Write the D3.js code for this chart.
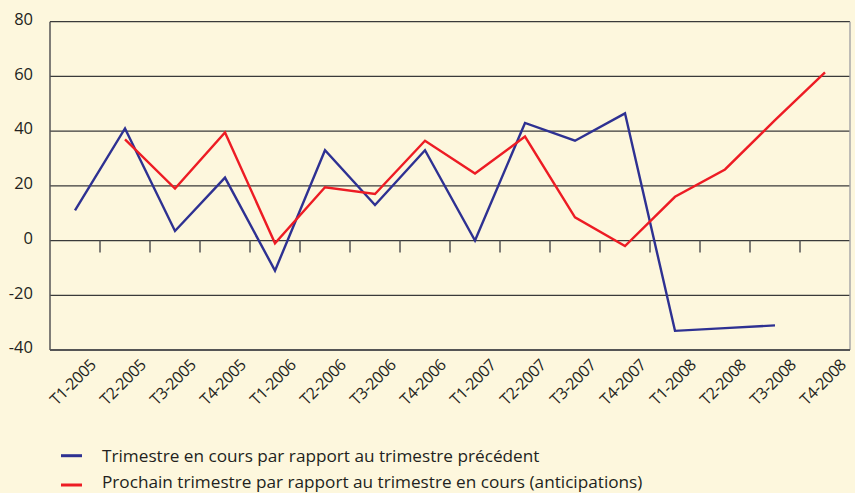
<!DOCTYPE html>
<html>
<head>
<meta charset="utf-8">
<script src="https://cdn.jsdelivr.net/npm/d3@7"></script>
<style>
  html, body { margin: 0; padding: 0; background: #fdf7dd; }
  svg { display: block; }
  text { font-family: "Open Sans", "Noto Sans", sans-serif; fill: #231f20; }
</style>
</head>
<body>
<svg id="chart" width="855" height="493"></svg>
<script>
// categories (quarters)
const quarters = [
  "T1-2005", "T2-2005", "T3-2005", "T4-2005",
  "T1-2006", "T2-2006", "T3-2006", "T4-2006",
  "T1-2007", "T2-2007", "T3-2007", "T4-2007",
  "T1-2008", "T2-2008", "T3-2008", "T4-2008"
];
// current quarter vs previous quarter
const currentVsPrevious = [11, 41, 3.5, 23, -11, 33, 13, 33, 0, 43, 36.5, 46.5, -33, -32, -31, null];
// next quarter vs current quarter (expectations)
const nextVsCurrent = [null, 37, 19, 39.5, -1, 19.5, 17, 36.5, 24.5, 38, 8.5, -2, 16, 26, 44, 61.5];
const yTicks = [-40, -20, 0, 20, 40, 60, 80];
const legendLabels = [
  "Trimestre en cours par rapport au trimestre précédent",
  "Prochain trimestre par rapport au trimestre en cours (anticipations)"
];
const seriesColors = ["#2e3192", "#ed1c24"];

const svg = d3.select("#chart");
const plotLeft = 50, plotRight = 850, plotTop = 21.7, plotBottom = 350;

const x = d3.scaleBand().domain(quarters).range([plotLeft, plotRight]).padding(0);
const y = d3.scaleLinear().domain([-40, 80]).range([plotBottom, plotTop]);
const cx = d => x(d) + x.bandwidth() / 2;

// horizontal gridlines
svg.append("g")
  .selectAll("line")
  .data(yTicks)
  .join("line")
  .attr("x1", plotLeft).attr("x2", plotRight)
  .attr("y1", d => y(d)).attr("y2", d => y(d))
  .attr("stroke", "#3a3a3a")
  .attr("stroke-width", 1.3);

// frame
svg.append("line").attr("x1", plotLeft).attr("x2", plotLeft).attr("y1", plotTop).attr("y2", plotBottom)
  .attr("stroke", "#555").attr("stroke-width", 1.5);
svg.append("line").attr("x1", plotRight).attr("x2", plotRight).attr("y1", plotTop).attr("y2", plotBottom)
  .attr("stroke", "#a8a8a8").attr("stroke-width", 1.5);
svg.append("line").attr("x1", plotLeft).attr("x2", plotRight).attr("y1", plotBottom).attr("y2", plotBottom)
  .attr("stroke", "#555").attr("stroke-width", 2);

// x axis ticks on the zero line, between categories
svg.append("g")
  .selectAll("line")
  .data(quarters.slice(1))
  .join("line")
  .attr("x1", d => x(d)).attr("x2", d => x(d))
  .attr("y1", y(0)).attr("y2", y(0) + 12)
  .attr("stroke", "#555")
  .attr("stroke-width", 1.5);

// y labels
svg.append("g")
  .selectAll("text")
  .data(yTicks)
  .join("text")
  .attr("x", 33)
  .attr("y", d => y(d) - 2.5)
  .attr("dy", "0.35em")
  .attr("text-anchor", "end")
  .attr("font-size", 16.5)
  .text(d => d);

// x labels
svg.append("g")
  .selectAll("text")
  .data(quarters)
  .join("text")
  .attr("transform", d => `translate(${cx(d) + 22},${plotBottom + 16}) rotate(-45)`)
  .attr("text-anchor", "end")
  .attr("font-size", 16)
  .attr("letter-spacing", -0.4)
  .text(d => d);

// series lines
const line = d3.line()
  .defined(d => d.v !== null)
  .x(d => cx(d.q))
  .y(d => y(d.v));

[currentVsPrevious, nextVsCurrent].forEach((vals, i) => {
  svg.append("path")
    .datum(quarters.map((q, k) => ({ q, v: vals[k] })))
    .attr("fill", "none")
    .attr("stroke", seriesColors[i])
    .attr("stroke-width", 2.4)
    .attr("stroke-linejoin", "miter")
    .attr("d", line);
});

// legend
const legend = svg.append("g")
  .selectAll("g")
  .data(legendLabels)
  .join("g");

legend.append("line")
  .attr("x1", 61).attr("x2", 82)
  .attr("y1", (d, i) => 455.7 + i * 29.3)
  .attr("y2", (d, i) => 455.7 + i * 29.3)
  .attr("stroke", (d, i) => seriesColors[i])
  .attr("stroke-width", 3);

legend.append("text")
  .attr("x", 102)
  .attr("y", (d, i) => 462 + i * 26)
  .attr("font-size", 17.2)
  .text(d => d);
</script>
</body>
</html>
